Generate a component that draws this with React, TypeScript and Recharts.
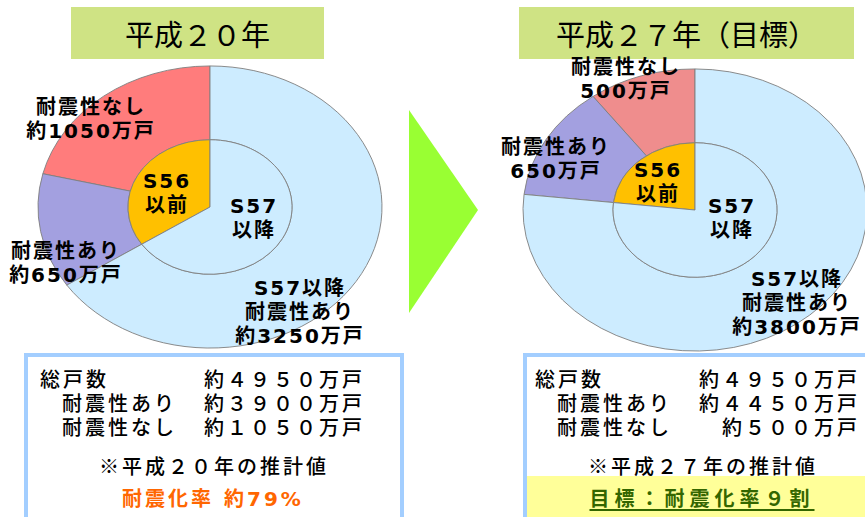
import { PieChart, Pie, Cell } from 'recharts'

// 住宅の耐震化の現状と目標（平成20年 → 平成27年）
const TITLES = ['平成２０年', '平成２７年（目標）']

const H20_OUTER_NAMES  = ['耐震性なし', '耐震性あり', 'S57以降耐震性あり']
const H20_OUTER_VALUES = [1050, 650, 3250]
const H20_INNER_NAMES  = ['S56以前', 'S57以降']
const H20_INNER_VALUES = [1700, 3250]

const H27_OUTER_NAMES  = ['耐震性なし', '耐震性あり', 'S57以降耐震性あり']
const H27_OUTER_VALUES = [500, 650, 3800]
const H27_INNER_NAMES  = ['S56以前', 'S57以降']
const H27_INNER_VALUES = [1150, 3800]

const H20_SLICE_LABELS = [
  ['耐震性なし', '約1050万戸'],
  ['耐震性あり', '約650万戸'],
  ['S57以降', '耐震性あり', '約3250万戸'],
  ['S56', '以前'],
  ['S57', '以降'],
]
const H27_SLICE_LABELS = [
  ['耐震性なし', '500万戸'],
  ['耐震性あり', '650万戸'],
  ['S57以降', '耐震性あり', '約3800万戸'],
  ['S56', '以前'],
  ['S57', '以降'],
]

const SUMMARY_LABELS     = ['総戸数', '耐震性あり', '耐震性なし']
const H20_SUMMARY_VALUES = ['約４９５０万戸', '約３９００万戸', '約１０５０万戸']
const H27_SUMMARY_VALUES = ['約４９５０万戸', '約４４５０万戸', '約５００万戸']
const NOTES = ['※平成２０年の推計値', '※平成２７年の推計値']
const H20_RATE = '耐震化率 約79%'
const H27_GOAL = '目標：耐震化率９割'

// styles / layout
const OUTER_COLORS_H20 = ['#ff7c7c', '#a3a0e0', '#cdecff']
const OUTER_COLORS_H27 = ['#ef8d8d', '#a3a0e0', '#cdecff']
const INNER_COLORS = ['#ffc000', '#cdecff']
const STROKE = '#7f7f7f'
const SQUASH = 0.82
const R_OUT = 172
const R_IN = 82
const BOX = 360

const LABEL_FONT = '"DejaVu Sans", "Noto Sans CJK JP", sans-serif'
const JP_FONT = '"Noto Sans CJK JP", sans-serif'

// label group centres (first line centre y)
const H20_LABEL_POS = [
  [91, 108], [66, 252], [300, 289], [167, 182], [254, 207],
]
const H27_LABEL_POS = [
  [626, 68], [556, 148], [797, 280], [658, 171], [732, 207],
]
const ROW_Y = [380, 404, 428]

const toRows = (names: string[], values: number[]) =>
  names.map((name, i) => ({ name, value: values[i] }))

function Donut({ cx, cy, outer, inner, outerColors }: {
  cx: number; cy: number
  outer: { name: string; value: number }[]
  inner: { name: string; value: number }[]
  outerColors: string[]
}) {
  return (
    <div style={{
      position: 'absolute', left: cx - BOX / 2, top: cy - BOX / 2,
      width: BOX, height: BOX,
      transform: `scaleY(${SQUASH})`, transformOrigin: '50% 50%',
    }}>
      <PieChart width={BOX} height={BOX} margin={{ top: 0, right: 0, bottom: 0, left: 0 }}>
        <Pie
          data={outer} dataKey="value" nameKey="name"
          cx={BOX / 2} cy={BOX / 2} innerRadius={R_IN} outerRadius={R_OUT}
          startAngle={90} endAngle={450}
          stroke={STROKE} strokeWidth={1}
          isAnimationActive={false}
        >
          {outer.map((d, i) => <Cell key={d.name} fill={outerColors[i]} />)}
        </Pie>
        <Pie
          data={inner} dataKey="value" nameKey="name"
          cx={BOX / 2} cy={BOX / 2} innerRadius={0} outerRadius={R_IN}
          startAngle={90} endAngle={450}
          stroke={STROKE} strokeWidth={1}
          isAnimationActive={false}
        >
          {inner.map((d, i) => <Cell key={d.name} fill={INNER_COLORS[i]} />)}
        </Pie>
      </PieChart>
    </div>
  )
}

function SliceLabels({ labels, pos }: { labels: string[][]; pos: number[][] }) {
  return (
    <>
      {labels.map((lines, i) => (
        <div key={i} style={{
          position: 'absolute', left: pos[i][0] - 80, top: pos[i][1] - 13,
          width: 160, textAlign: 'center',
          fontFamily: LABEL_FONT, fontWeight: 700, fontSize: 20,
          letterSpacing: 2, lineHeight: '24px', color: '#000',
          whiteSpace: 'pre',
        }}>
          {lines.map(l => <div key={l}>{l}</div>)}
        </div>
      ))}
    </>
  )
}

function Title({ x, w, text }: { x: number; w: number; text: string }) {
  return (
    <div style={{
      position: 'absolute', left: x, top: 7, width: w, height: 52,
      background: '#cfe384', textAlign: 'center',
      fontFamily: JP_FONT, fontSize: 29, lineHeight: '52px', color: '#000',
    }}>{text}</div>
  )
}

function Summary({ labelX, valueRight, values }: {
  labelX: number; valueRight: number; values: string[]
}) {
  const rowText = {
    position: 'absolute' as const, fontFamily: LABEL_FONT, fontWeight: 500,
    fontSize: 20, letterSpacing: 3,
    lineHeight: '22px', height: 22, color: '#000', whiteSpace: 'pre' as const,
  }
  return (
    <>
      {SUMMARY_LABELS.map((l, i) => (
        <div key={l} style={{
          ...rowText, left: i === 0 ? labelX : labelX + 22, top: ROW_Y[i] - 11,
        }}>{l}</div>
      ))}
      {values.map((v, i) => (
        <div key={i} style={{
          ...rowText, left: valueRight - 165, width: 168, top: ROW_Y[i] - 11,
          textAlign: 'right',
        }}>{v}</div>
      ))}
    </>
  )
}

export default function App() {
  return (
    <div style={{
      position: 'absolute', left: 0, top: 0, width: 865, height: 517,
      overflow: 'hidden', background: '#fff',
    }}>
      <Title x={71} w={253} text={TITLES[0]} />
      <Title x={519} w={335} text={TITLES[1]} />

      <Donut cx={210} cy={207}
        outer={toRows(H20_OUTER_NAMES, H20_OUTER_VALUES)}
        inner={toRows(H20_INNER_NAMES, H20_INNER_VALUES)}
        outerColors={OUTER_COLORS_H20} />
      <Donut cx={695} cy={210}
        outer={toRows(H27_OUTER_NAMES, H27_OUTER_VALUES)}
        inner={toRows(H27_INNER_NAMES, H27_INNER_VALUES)}
        outerColors={OUTER_COLORS_H27} />

      <SliceLabels labels={H20_SLICE_LABELS} pos={H20_LABEL_POS} />
      <SliceLabels labels={H27_SLICE_LABELS} pos={H27_LABEL_POS} />

      <svg style={{ position: 'absolute', left: 0, top: 0 }} width={865} height={517}>
        <polygon points="409,110 478,210 409,313" fill="#99ff33" />
      </svg>

      {/* 左の集計枠 */}
      <div style={{
        position: 'absolute', left: 24, top: 353, width: 372, height: 200,
        border: '4px solid #a3ceff', background: '#fff',
      }} />
      {/* 右の集計枠 */}
      <div style={{
        position: 'absolute', left: 523, top: 353, width: 400, height: 200,
        border: '4px solid #a3ceff', background: '#fff',
      }} />
      <div style={{
        position: 'absolute', left: 527, top: 476, width: 338, height: 41,
        background: '#ffff99',
      }} />

      <Summary labelX={40} valueRight={362} values={H20_SUMMARY_VALUES} />
      <Summary labelX={535} valueRight={857} values={H27_SUMMARY_VALUES} />

      <div style={{
        position: 'absolute', left: 64, width: 300, top: 454, textAlign: 'center',
        fontFamily: JP_FONT, fontWeight: 500, fontSize: 20, letterSpacing: 3,
        lineHeight: '24px', color: '#000',
      }}>{NOTES[0]}</div>
      <div style={{
        position: 'absolute', left: 553, width: 300, top: 454, textAlign: 'center',
        fontFamily: JP_FONT, fontWeight: 500, fontSize: 20, letterSpacing: 3,
        lineHeight: '24px', color: '#000',
      }}>{NOTES[1]}</div>

      <div style={{
        position: 'absolute', left: 63, width: 300, top: 487, textAlign: 'center',
        fontFamily: LABEL_FONT, fontWeight: 700, fontSize: 20, letterSpacing: 3,
        lineHeight: '24px', color: '#ff6600', whiteSpace: 'pre',
      }}>{H20_RATE}</div>
      <div style={{
        position: 'absolute', left: 552, width: 300, top: 486, textAlign: 'center',
        fontFamily: JP_FONT, fontWeight: 700, fontSize: 20, letterSpacing: 5,
        lineHeight: '24px', color: '#336600',
      }}>
        <span style={{ textDecoration: 'underline', textUnderlineOffset: 3 }}>{H27_GOAL}</span>
      </div>
    </div>
  )
}
